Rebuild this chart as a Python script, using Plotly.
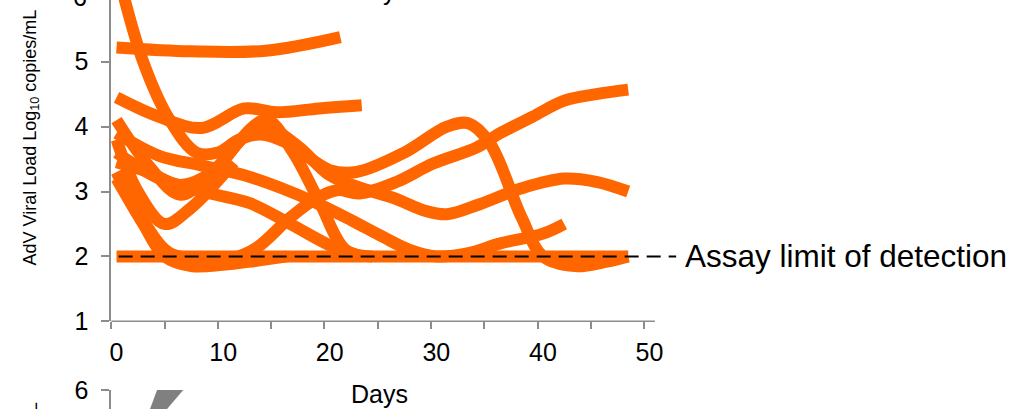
import plotly.graph_objects as go

# ---------------- data (days, log10 copies/mL) ----------------
days_a = [0, 7, 14, 21]
load_a = [5.22, 5.16, 5.17, 5.38]

days_b = [0, 2.5, 5, 7.5, 9.5, 11.5, 13.5, 16, 20, 22.5, 27, 31, 33, 35, 38, 40, 43, 46, 48]
load_b = [6.45, 5.0, 4.1, 3.6, 3.6, 3.8, 3.88, 3.75, 3.33, 3.3, 3.6, 4.0, 4.05, 3.75, 2.6, 2.0, 1.85, 1.92, 2.0]

days_c = [0, 4, 8, 12, 15, 19, 23]
load_c = [4.45, 4.15, 3.98, 4.28, 4.22, 4.28, 4.33]

days_d = [0, 3, 6, 9, 14, 16.5, 19, 21.5, 24]
load_d = [4.1, 3.4, 2.95, 3.3, 4.1, 3.62, 2.85, 2.1, 2.0]

days_e = [0, 2, 4.5, 7, 11]
load_e = [3.8, 3.0, 2.5, 2.75, 3.45]

days_f = [0, 4, 8, 12.5, 16.3, 20.3, 23]
load_f = [3.6, 3.2, 3.0, 2.82, 2.5, 2.15, 2.0]

days_g = [0, 2.5, 4.5, 7, 10, 13, 16]
load_g = [3.2, 2.5, 2.0, 1.85, 1.87, 1.93, 2.0]

days_h = [0, 3, 6, 9, 12, 14, 17, 20, 23, 26, 29, 31, 34, 38, 42, 45, 48]
load_h = [3.45, 3.3, 3.1, 3.3, 3.85, 4.0, 3.7, 3.25, 3.05, 2.9, 2.7, 2.65, 2.8, 3.05, 3.2, 3.15, 3.0]

days_i = [0, 4, 8, 12, 15.5, 18.8, 22, 25, 27.5, 30, 33, 36, 40, 42]
load_i = [3.9, 3.55, 3.4, 3.25, 3.05, 2.82, 2.56, 2.3, 2.1, 2.0, 2.05, 2.2, 2.35, 2.5]

days_j = [0, 12, 24, 36, 48]
load_j = [2.0, 2.0, 2.0, 2.0, 2.0]

days_k = [0, 2.5, 5, 8, 11, 13.2, 16.3, 18.8, 20.7, 22.8, 26.3, 29.7, 33.8, 36, 39, 42, 45, 48]
load_k = [3.3, 2.55, 2.05, 1.97, 1.98, 2.14, 2.6, 2.9, 3.02, 2.97, 3.15, 3.43, 3.68, 3.9, 4.15, 4.4, 4.5, 4.57]

series = [(days_a, load_a), (days_b, load_b), (days_c, load_c), (days_d, load_d),
          (days_e, load_e), (days_f, load_f), (days_g, load_g), (days_h, load_h),
          (days_i, load_i), (days_j, load_j), (days_k, load_k)]

# lower (next) panel, only its top edge is visible
days_low1 = [3.0, 5.0]
load_low1 = [5.378, 6.266]
days_low2 = [3.0, 6.5]
load_low2 = [5.513, 6.19]

lod_days = [0.2, 52.5]
lod_value = [2, 2]
lod_label = "Assay limit of detection"

x_ticks = [0, 10, 20, 30, 40, 50]
x_tick_labels = ["0", "10", "20", "30", "40", "50"]
x_minor_ticks = [-0.5, 4.5, 9.5, 14.5, 19.5, 24.5, 29.5, 34.5, 39.5, 44.5, 49.5]
y_ticks = [1, 2, 3, 4, 5]
y_title = "AdV Viral Load Log<sub>10</sub> copies/mL"
x_title = "Days"

# ---------------- layout constants ----------------
W, H = 1013, 409
ORANGE = "#FF6600"
AXIS = "#8c8c8c"
FONT = "Liberation Sans, Arial, sans-serif"

def px_x(p):
    return p / W

def px_y(p):
    return (H - p) / H

fig = go.Figure()
for d, v in series:
    fig.add_trace(go.Scatter(x=d, y=v, mode="lines", line=dict(color=ORANGE, width=12, shape="spline"),
                             xaxis="x", yaxis="y", showlegend=False, hoverinfo="skip"))
fig.add_trace(go.Scatter(x=lod_days, y=lod_value, mode="lines",
                         line=dict(color="black", width=2, dash="14px,8px"),
                         xaxis="x", yaxis="y", showlegend=False, hoverinfo="skip"))
for d, v in [(days_low1, load_low1), (days_low2, load_low2)]:
    fig.add_trace(go.Scatter(x=d, y=v, mode="lines", line=dict(color="#808080", width=12),
                             xaxis="x2", yaxis="y2", showlegend=False, hoverinfo="skip"))

x_dom = [px_x(111.2), 1.0]
x_range = [-0.5, -0.5 + (W - 111.2) / 10.66]

fig.update_layout(
    template="none",
    width=W, height=H, autosize=False,
    margin=dict(l=0, r=0, t=0, b=0, pad=0),
    paper_bgcolor="white", plot_bgcolor="rgba(0,0,0,0)",
    font=dict(family=FONT, color="black"),
    xaxis=dict(domain=x_dom, range=x_range, anchor="y", automargin=False, tickmode="array",
               tickvals=x_ticks, ticktext=x_tick_labels, ticks="", showline=False, showgrid=False,
               zeroline=False, tickfont=dict(size=25, color="black"), ticklabelstandoff=14,
               minor=dict(tickmode="array", tickvals=x_minor_ticks, ticks="outside", ticklen=7,
                          tickwidth=1.5, tickcolor=AXIS, showgrid=False)),
    yaxis=dict(domain=[px_y(321.3), 1.0], range=[1, 1 + 321.3 / 64.9], anchor="x", automargin=False,
               tickmode="array", tickvals=y_ticks, ticks="outside", ticklen=8, tickwidth=1.5,
               tickcolor=AXIS, showline=True, linecolor=AXIS, linewidth=1.5, showgrid=False,
               zeroline=False, tickfont=dict(size=25, color="black"), ticklabelstandoff=8),
    xaxis2=dict(domain=x_dom, range=x_range, anchor="y2", visible=False, automargin=False),
    yaxis2=dict(domain=[0, 19 / H], range=[6 - 19 / 64.9, 6.0005], anchor="x2", automargin=False,
                tickmode="array", tickvals=[6], ticks="outside", ticklen=8, tickwidth=1.5,
                tickcolor=AXIS, showline=True, linecolor=AXIS, linewidth=1.5, showgrid=False,
                zeroline=False, tickfont=dict(size=25, color="black"), ticklabelstandoff=8),
    shapes=[dict(type="line", xref="x", yref="y domain", x0=-0.5, x1=50.5, y0=0, y1=0,
                 line=dict(color=AXIS, width=1.5))],
    annotations=[
        dict(text=y_title, textangle=-90, xref="paper", yref="paper", x=px_x(31), y=px_y(137.5),
             xanchor="center", yanchor="middle", showarrow=False, font=dict(size=18)),
        dict(text=y_title, textangle=-90, xref="paper", yref="paper", x=px_x(32), y=px_y(530.0),
             xanchor="center", yanchor="middle", showarrow=False, font=dict(size=18)),
        dict(text=x_title, xref="paper", yref="paper", x=px_x(379), y=px_y(394),
             xanchor="center", yanchor="middle", showarrow=False, font=dict(size=25)),
        dict(text=x_title, xref="paper", yref="paper", x=px_x(379), y=px_y(-9),
             xanchor="center", yanchor="middle", showarrow=False, font=dict(size=25)),
        dict(text="6", xref="paper", yref="paper", x=px_x(89), y=px_y(-3.3),
             xanchor="right", yanchor="middle", showarrow=False, font=dict(size=25)),
        dict(text=lod_label, xref="x", yref="y", x=53.1, y=2, xanchor="left", yanchor="middle",
             showarrow=False, font=dict(size=31.5)),
    ],
)

fig.write_html("out.html", config={"displayModeBar": False},
               post_script="document.body.style.margin='0px';document.body.style.padding='0px';")
